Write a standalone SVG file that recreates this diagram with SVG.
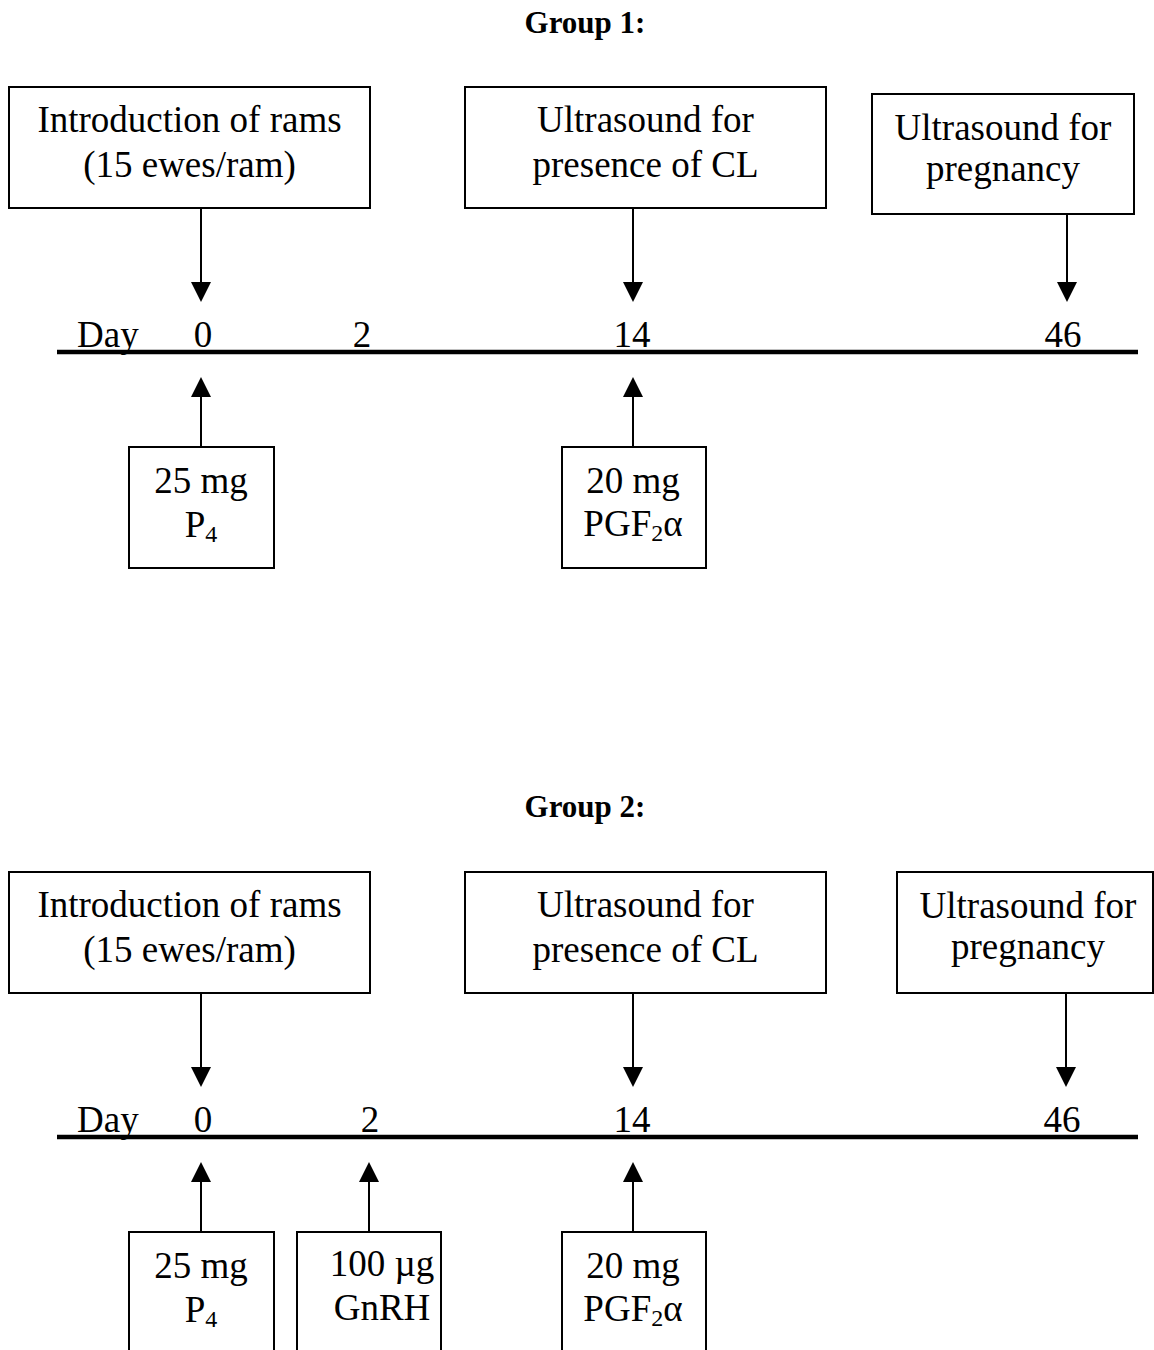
<svg xmlns="http://www.w3.org/2000/svg" width="1154" height="1350" viewBox="0 0 1154 1350">
<style>
text{font-family:"Liberation Serif","Times New Roman",serif;fill:#000}
.t{font-size:31px;font-weight:bold;text-anchor:middle}
.b{font-size:37px;text-anchor:middle}
.d{font-size:37px}
.box{fill:#fff;stroke:#000;stroke-width:2}
.c{stroke:#000;stroke-width:2;fill:none;marker-end:url(#ah)}
.tl{stroke:#000;stroke-width:4.5}
</style>
<defs>
<marker id="ah" markerUnits="userSpaceOnUse" markerWidth="20" markerHeight="20" refX="10" refY="10" orient="auto" viewBox="0 0 20 20">
<path d="M0,0 L20,10 L0,20 Z" fill="#000"/>
</marker>
</defs>
<rect width="1154" height="1350" fill="#fff"/>

<!-- Group 1 -->
<g id="group1">
<text id="title1" class="t" x="585" y="33">Group 1:</text>
<g id="g1-rams"><rect class="box" x="9" y="87" width="361" height="121"/><text class="b" x="189.5" y="132">Introduction of rams</text><text class="b" x="189.5" y="177">(15 ewes/ram)</text></g>
<g id="g1-cl"><rect class="box" x="465" y="87" width="361" height="121"/><text class="b" x="645.5" y="132">Ultrasound for</text><text class="b" x="645.5" y="177">presence of CL</text></g>
<g id="g1-preg"><rect class="box" x="872" y="94" width="262" height="120"/><text class="b" x="1003" y="140">Ultrasound for</text><text class="b" x="1003" y="181">pregnancy</text></g>
<g id="g1-timeline"><line class="tl" x1="57" y1="352" x2="1138" y2="352"/><text class="d" x="77" y="347">Day</text><text class="b" x="203" y="347">0</text><text class="b" x="362" y="347">2</text><text class="b" x="632" y="347">14</text><text class="b" x="1063" y="347">46</text></g>
<g id="g1-p4"><rect class="box" x="129" y="447" width="145" height="121"/><text class="b" x="201" y="493">25 mg</text><text class="b" x="201" y="537">P<tspan font-size="24" dy="5">4</tspan></text></g>
<g id="g1-pgf"><rect class="box" x="562" y="447" width="144" height="121"/><text class="b" x="633" y="493">20 mg</text><text class="b" x="633" y="536">PGF<tspan font-size="24" dy="5">2</tspan><tspan dy="-5">α</tspan></text></g>
</g>
<g id="g1-connectors">
<line class="c" x1="201" y1="208" x2="201" y2="292"/>
<line class="c" x1="633" y1="208" x2="633" y2="292"/>
<line class="c" x1="1067" y1="214" x2="1067" y2="292"/>
<line class="c" x1="201" y1="447" x2="201" y2="387"/>
<line class="c" x1="633" y1="447" x2="633" y2="387"/>
</g>

<!-- Group 2 -->
<g id="group2">
<text id="title2" class="t" x="585" y="817">Group 2:</text>
<g id="g2-rams"><rect class="box" x="9" y="872" width="361" height="121"/><text class="b" x="189.5" y="917">Introduction of rams</text><text class="b" x="189.5" y="962">(15 ewes/ram)</text></g>
<g id="g2-cl"><rect class="box" x="465" y="872" width="361" height="121"/><text class="b" x="645.5" y="917">Ultrasound for</text><text class="b" x="645.5" y="962">presence of CL</text></g>
<g id="g2-preg"><rect class="box" x="897" y="872" width="256" height="121"/><text class="b" x="1028" y="918">Ultrasound for</text><text class="b" x="1028" y="959">pregnancy</text></g>
<g id="g2-timeline"><line class="tl" x1="57" y1="1137" x2="1138" y2="1137"/><text class="d" x="77" y="1132">Day</text><text class="b" x="203" y="1132">0</text><text class="b" x="370" y="1132">2</text><text class="b" x="632" y="1132">14</text><text class="b" x="1062" y="1132">46</text></g>
<g id="g2-p4"><rect class="box" x="129" y="1232" width="145" height="130"/><text class="b" x="201" y="1278">25 mg</text><text class="b" x="201" y="1322">P<tspan font-size="24" dy="5">4</tspan></text></g>
<g id="g2-gnrh"><rect class="box" x="297" y="1232" width="144" height="130"/><text class="b" x="382" y="1276">100 µg</text><text class="b" x="382" y="1320">GnRH</text></g>
<g id="g2-pgf"><rect class="box" x="562" y="1232" width="144" height="130"/><text class="b" x="633" y="1278">20 mg</text><text class="b" x="633" y="1321">PGF<tspan font-size="24" dy="5">2</tspan><tspan dy="-5">α</tspan></text></g>
</g>
<g id="g2-connectors">
<line class="c" x1="201" y1="993" x2="201" y2="1077"/>
<line class="c" x1="633" y1="993" x2="633" y2="1077"/>
<line class="c" x1="1066" y1="993" x2="1066" y2="1077"/>
<line class="c" x1="201" y1="1232" x2="201" y2="1172"/>
<line class="c" x1="369" y1="1232" x2="369" y2="1172"/>
<line class="c" x1="633" y1="1232" x2="633" y2="1172"/>
</g>
</svg>
